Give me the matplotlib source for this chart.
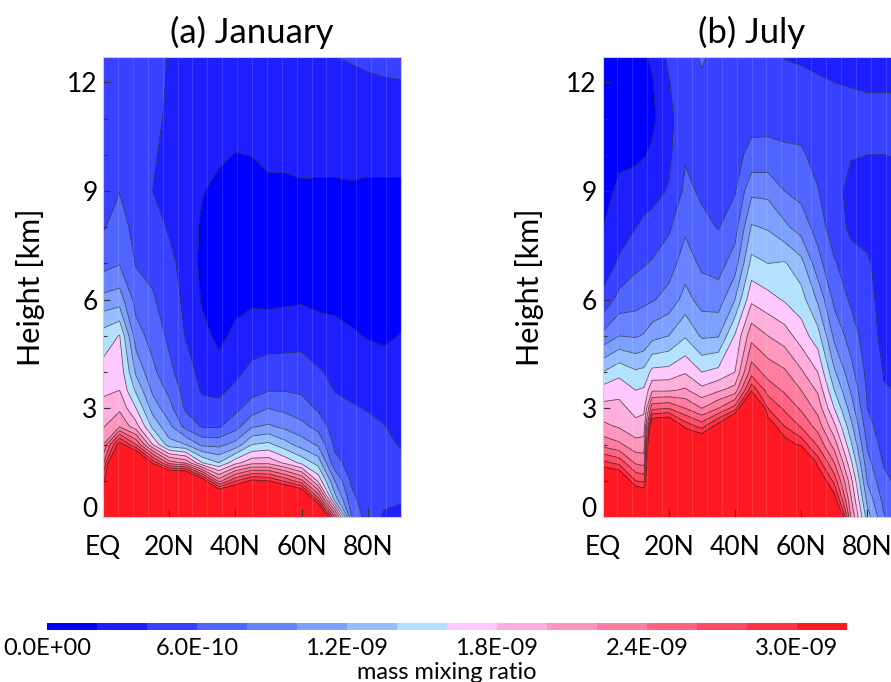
import numpy as np
import matplotlib
matplotlib.use("Agg")
import matplotlib.pyplot as plt
from matplotlib.colors import ListedColormap, BoundaryNorm
import matplotlib.cm as cm

plt.rcParams['font.family'] = ['Lato', 'DejaVu Sans']

# heights of the profile points [km]
heights = [0, 0.5, 1, 1.5, 2, 2.5, 3, 3.5, 4, 5, 6, 7, 8, 9, 10, 11, 12, 13]

# mass mixing ratio in units of 1e-10, one profile (bottom -> top) per latitude
lat_jan = [0, 5, 10, 15, 20, 25, 30, 35, 40, 45, 50, 55, 60, 65, 70, 75, 80, 85, 90]
jan_mmr = [
    [40, 36, 29.2, 25.4, 22, 19.8, 18.7, 17.6, 16.7, 14.9, 10.6, 7.2, 5.8, 5.4, 5.2, 5.0, 4.6, 3.8],
    [40, 40, 40, 40, 31.3, 21.8, 19.6, 18, 17.4, 16.1, 11.0, 7.9, 6.9, 5.95, 5.6, 5.4, 5.2, 5.0],
    [40, 40, 40, 38, 26, 18.8, 16, 13.6, 11.6, 8.9, 7.2, 5.85, 5.3, 5.0, 4.8, 4.6, 4.5, 4.4],
    [40, 40, 40, 29.5, 18, 13.5, 11.2, 9.6, 8.5, 7.2, 6.2, 5.5, 4.8, 4.0, 4.2, 4.6, 4.7, 4.6],
    [40, 40, 40, 23, 12.8, 10.5, 8.7, 7.5, 6.5, 5.6, 5.1, 4.5, 3.8, 3.6, 3.5, 3.6, 3.8, 3.9],
    [40, 40, 40, 21.5, 12, 7.3, 5.7, 5.2, 4.8, 3.9, 3.5, 3.3, 3.0, 2.9, 2.8, 2.8, 2.9, 3.0],
    [40, 40, 32, 16, 9.5, 5.8, 4.6, 3.8, 3.4, 2.5, 1.8, 1.5, 1.7, 2.1, 2.6, 2.8, 3.0, 3.1],
    [40, 38, 23.1, 14, 9.4, 5.8, 4.5, 3.6, 2.6, 1.6, 1.2, 1.0, 1.1, 1.5, 2.3, 2.7, 2.9, 3.0],
    [40, 37.8, 27.8, 17.3, 10.7, 7.2, 5.5, 4.4, 3.6, 2.4, 1.5, 1.0, 0.9, 1.0, 1.95, 2.5, 2.8, 3.0],
    [40, 40, 30.5, 19.3, 14, 9.8, 6.9, 5.4, 4.5, 3.0, 1.7, 1.0, 0.9, 1.1, 2.05, 2.6, 2.8, 3.0],
    [40, 40, 30, 19.4, 14.5, 10.3, 8.0, 5.9, 4.9, 3.1, 1.6, 0.9, 0.8, 1.4, 2.6, 2.7, 2.9, 3.0],
    [40, 39, 27.5, 17.5, 12.8, 9.5, 7.5, 5.9, 4.9, 3.2, 1.7, 0.9, 0.8, 1.5, 2.5, 2.7, 2.9, 3.0],
    [40, 37, 24.5, 15.4, 11.1, 8.6, 6.9, 5.7, 4.9, 3.3, 1.8, 1.0, 0.9, 1.75, 2.5, 2.7, 2.9, 3.0],
    [40, 26.6, 17.5, 13.2, 9.7, 7.3, 5.7, 5.0, 4.2, 2.8, 1.6, 1.0, 0.9, 1.7, 2.5, 2.7, 2.9, 3.6],
    [24, 13, 10, 6.6, 5.6, 5.0, 4.4, 3.95, 3.6, 2.5, 1.6, 0.9, 0.9, 1.7, 2.5, 2.8, 3.2, 4.3],
    [8.2, 6.6, 5.7, 5.3, 4.9, 4.5, 4.1, 3.8, 3.4, 2.2, 1.4, 0.9, 1.0, 1.8, 2.5, 2.8, 3.6, 4.4],
    [4.8, 4.8, 4.7, 4.6, 4.4, 4.2, 3.95, 3.5, 3.0, 1.9, 1.2, 0.8, 0.9, 1.7, 2.5, 2.9, 3.8, 4.5],
    [3.8, 4.3, 4.5, 4.5, 4.3, 4.05, 3.6, 3.0, 2.5, 1.8, 1.2, 0.8, 0.9, 1.7, 2.5, 3.0, 3.9, 4.6],
    [3.5, 4.2, 4.5, 4.3, 3.9, 3.4, 3.0, 2.7, 2.4, 2.05, 1.5, 1.0, 1.0, 1.7, 2.5, 3.1, 3.95, 4.7],
]

lat_jul = [0, 5, 10, 12.5, 15, 20, 25, 30, 35, 40, 45, 50, 55, 60, 65, 70, 75, 80, 85, 90]
jul_mmr = [
    [40, 40, 35, 28.6, 23.3, 20.5, 18.7, 16.8, 14, 8.5, 4.4, 3.05, 1.95, 1.3, 1.0, 0.9, 0.8, 0.8],
    [40, 40, 34, 27.3, 22.4, 19.8, 18.7, 17.3, 15.4, 10, 6.75, 4.25, 3.25, 2.4, 1.6, 1.2, 1.0, 0.9],
    [40, 34.7, 28, 23.7, 20.75, 18.7, 17.25, 16, 14.3, 9.8, 7.2, 5.55, 3.95, 2.7, 1.7, 1.2, 1.0, 0.9],
    [40, 33.8, 27.5, 23.3, 20.8, 19, 17.5, 16.25, 14.55, 10.2, 7.5, 5.85, 4.45, 3.1, 1.9, 1.3, 1.4, 1.9],
    [40, 40, 40, 40, 40, 33.6, 25.5, 19.7, 16.6, 11.3, 7.8, 6.2, 4.65, 3.4, 2.3, 1.6, 1.85, 2.6],
    [40, 40, 40, 40, 40, 34.4, 26, 19.7, 16.75, 12, 8.75, 7.07, 5.7, 4.15, 3.6, 3.4, 3.9, 4.6],
    [40, 40, 40, 40, 35, 29.4, 24, 20.3, 17.8, 13.8, 10.75, 9.0, 7.65, 6.45, 5.8, 5.4, 5.2, 5.3],
    [40, 40, 40, 40, 34, 27.3, 22, 18.6, 16, 11.7, 9.2, 7.6, 6.5, 5.7, 5.3, 5.2, 5.7, 6.5],
    [40, 40, 40, 40, 40, 31.3, 24, 19.7, 16.6, 11.85, 9.0, 7.2, 5.9, 5.5, 5.3, 5.2, 5.3, 5.5],
    [40, 40, 40, 40, 40, 37.9, 27, 20.8, 18, 16.2, 12, 9.0, 7.15, 5.85, 5.4, 5.2, 5.1, 5.1],
    [40, 40, 40, 40, 40, 40, 40, 29.5, 25.1, 21.3, 17.6, 14.6, 12.2, 9.55, 6.55, 5.4, 5.1, 5.0],
    [40, 40, 40, 40, 40, 32, 28, 25.1, 23.2, 20, 16.7, 14, 11.8, 9.45, 6.6, 5.4, 5.1, 5.0],
    [40, 40, 40, 40, 31.4, 28, 25.6, 23.7, 22.3, 19, 15.8, 14.2, 10.45, 8.0, 6.35, 5.35, 4.5, 3.7],
    [40, 40, 40, 40, 29.4, 25.8, 23.7, 22, 20.3, 17, 14.9, 12.7, 9.1, 7.4, 6.25, 5.3, 4.35, 3.6],
    [40, 40, 33, 29.15, 25.7, 23.2, 21.3, 19.7, 18, 14.85, 11.7, 8.75, 7.2, 6.1, 5.4, 4.8, 4.15, 3.5],
    [40, 31.2, 27.3, 24, 21.1, 18.5, 16, 14, 12.3, 9.5, 7.5, 6.25, 4.8, 4.6, 4.7, 4.6, 4.0, 3.4],
    [22, 20.3, 18.7, 16.5, 14.4, 12.7, 11.1, 9.8, 8.7, 7.1, 5.7, 4.6, 3.7, 3.5, 4.1, 4.6, 3.9, 3.3],
    [13, 11.3, 9.8, 8.7, 7.7, 6.8, 6.0, 5.7, 5.4, 4.9, 4.5, 4.2, 3.5, 3.4, 4.0, 4.5, 3.8, 3.3],
    [8.2, 7.3, 6.5, 5.8, 5.2, 4.7, 4.4, 4.1, 3.9, 3.5, 3.4, 3.3, 3.2, 3.3, 4.0, 4.5, 3.8, 3.3],
    [6.5, 5.9, 5.4, 5.0, 4.6, 4.3, 4.1, 3.9, 3.7, 3.4, 3.3, 3.2, 3.2, 3.4, 4.1, 4.5, 3.8, 3.3],
]

xtick_pos = [0, 20, 40, 60, 80]
xtick_lab = ['EQ', '20N', '40N', '60N', '80N']
cbar_ticks = [0, 6e-10, 1.2e-9, 1.8e-9, 2.4e-9, 3.0e-9]
cbar_labels = ['0.0E+00', '6.0E-10', '1.2E-09', '1.8E-09', '2.4E-09', '3.0E-09']

band_colors = ['#0000ff', '#1e1eff', '#3741ff', '#5064ff', '#6982ff', '#7da0ff',
               '#96beff', '#b4e1ff', '#ffc8ff', '#ffafdc', '#ff96be', '#ff7da0',
               '#ff6482', '#ff4b64', '#ff3246', '#ff1923']

levels = np.arange(17) * 2e-10
fill_levels = np.append(levels, 1e-8)
line_levels = levels[1:16]

fig = plt.figure(figsize=(8.91, 6.82), dpi=100)


def draw(rect, lat, prof, title):
    ax = fig.add_axes(rect)
    z = np.array(prof).T * 1e-10
    ax.contourf(lat, heights, z, levels=fill_levels, colors=band_colors + [band_colors[-1]])
    ax.contour(lat, heights, z, levels=line_levels, colors='#222222', linewidths=0.6, alpha=0.7)
    # faint grid-cell seams of the model output
    for x in np.arange(4.5, 90, 4.5):
        ax.axvline(x, color='white', lw=0.8, alpha=0.13)
    ax.set_xlim(0, 90)
    ax.set_ylim(0, 12.7)
    ax.set_xticks(xtick_pos)
    ax.set_xticklabels(xtick_lab)
    ax.set_yticks([0, 3, 6, 9, 12])
    ax.set_yticks(range(13), minor=True)
    ax.tick_params(axis='both', which='both', direction='in', top=False, right=False,
                   labelsize=19, width=0.8, color='#333333')
    ax.tick_params(axis='x', which='major', length=6, pad=13)
    ax.tick_params(axis='y', which='major', length=5, pad=4)
    ax.tick_params(axis='y', which='minor', length=3)
    ax.yaxis.get_majorticklabels()[0].set_va('baseline')
    for s in ax.spines.values():
        s.set_color('#cfcfcf')
        s.set_linewidth(0.8)
    ax.set_title(title, fontsize=25, pad=10)
    ax.set_ylabel('Height [km]', fontsize=22, labelpad=16)
    return ax


draw([103 / 891, 165 / 682, 298 / 891, 460 / 682], lat_jan, jan_mmr, '(a) January')
draw([602.5 / 891, 165 / 682, 298 / 891, 460 / 682], lat_jul, jul_mmr, '(b) July')

# colorbar
cax = fig.add_axes([47 / 891, 52 / 682, 800 / 891, 7 / 682])
sm = cm.ScalarMappable(norm=BoundaryNorm(levels, 16), cmap=ListedColormap(band_colors))
cb = fig.colorbar(sm, cax=cax, orientation='horizontal')
cb.outline.set_visible(False)
cb.set_ticks(cbar_ticks, labels=cbar_labels)
cb.ax.minorticks_off()
cb.ax.tick_params(which='both', length=0, labelsize=17, pad=6)
cb.set_label('mass mixing ratio', fontsize=17, labelpad=2)

fig.savefig('out.png', dpi=100)
